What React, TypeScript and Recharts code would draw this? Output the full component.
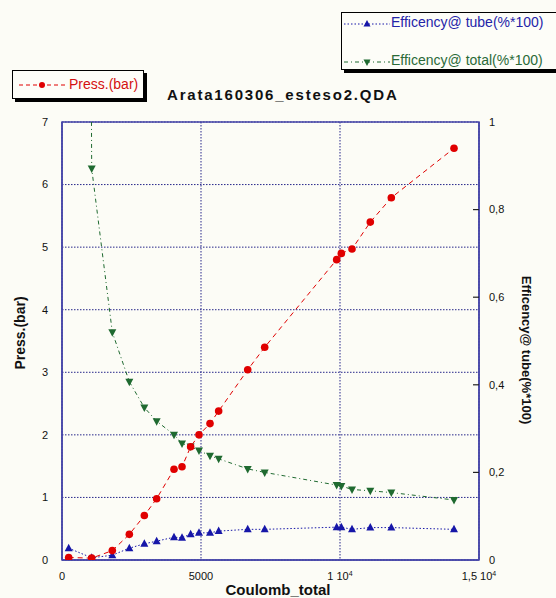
import { CartesianGrid, ComposedChart, Label, Line, ReferenceArea, XAxis, YAxis } from "recharts";

// Coulomb_total shared by the three series
const coulomb = [240, 1068, 1810, 2422, 2962, 3405, 4029, 4317, 4628, 4928, 5324, 5635, 6680, 7291, 9880, 10048, 10432, 11090, 11846, 14101];
const press = [0.04, 0.03, 0.15, 0.41, 0.71, 0.98, 1.45, 1.49, 1.81, 2.0, 2.18, 2.38, 3.04, 3.4, 4.8, 4.9, 4.97, 5.4, 5.79, 6.58];
const effTube = [0.027, 0.005, 0.011, 0.027, 0.037, 0.043, 0.052, 0.051, 0.059, 0.062, 0.062, 0.066, 0.07, 0.07, 0.075, 0.075, 0.07, 0.074, 0.074, 0.07];
const effTotal = [12, 0.894, 0.52, 0.407, 0.348, 0.317, 0.286, 0.266, 0.259, 0.25, 0.238, 0.231, 0.208, 0.2, 0.171, 0.169, 0.161, 0.158, 0.154, 0.137];

const xTicks = [0, 5000, 10000, 15000];
const pressTicks = [0, 1, 2, 3, 4, 5, 6, 7];
const effTicks = [0, 0.2, 0.4, 0.6, 0.8, 1];

const data = coulomb.map((c, i) => ({ c, press: press[i], tube: effTube[i], total: effTotal[i] }));

const RED = "#e00000";
const BLUE = "#1616a8";
const GREEN = "#1f6a30";
const FRAME = "#4646a8";
const FONT = "'Liberation Sans', Arial, sans-serif";

const circleDot = (p: any) => <circle key={`p${p.index}`} cx={p.cx} cy={p.cy} r={3.8} fill={RED} stroke="none" />;
const upDot = (p: any) => (
  <path key={`u${p.index}`} d={`M${p.cx},${p.cy - 4.5}L${p.cx + 4},${p.cy + 3}L${p.cx - 4},${p.cy + 3}Z`} fill={BLUE} />
);
const downDot = (p: any) => (
  <path key={`d${p.index}`} d={`M${p.cx - 4},${p.cy - 3}L${p.cx + 4},${p.cy - 3}L${p.cx},${p.cy + 4.5}Z`} fill={GREEN} />
);

const XTick = ({ x, y, payload }: any) => {
  const v = payload.value;
  let main = String(v);
  let sup = "";
  if (v === 10000) { main = "1 10"; sup = "4"; }
  if (v === 15000) { main = "1,5 10"; sup = "4"; }
  return (
    <text x={x} y={y} dy="0.71em" textAnchor="middle" fontSize={11} fill="#111" fontFamily={FONT}>
      {main}
      {sup && <tspan dy={-4} fontSize={7}>{sup}</tspan>}
    </text>
  );
};

const RightTick = ({ x, y, payload }: any) => {
  const v = payload.value;
  return (
    <g>
      {v > 0 && v < 1 && <line x1={x - 16} x2={x - 10} y1={y} y2={y} stroke="#222" strokeWidth={1.2} />}
      <text x={x} y={y} dy="0.35em" textAnchor="start" fontSize={11} fill="#111" fontFamily={FONT}>
        {String(Math.round(v * 10) / 10).replace(".", ",")}
      </text>
    </g>
  );
};

const LegendIcon = ({ color, dash, mark }: { color: string; dash: string; mark: "circle" | "up" | "down" }) => (
  <svg width={46} height={10} style={{ display: "block" }}>
    <line x1={0} x2={46} y1={5} y2={5} stroke={color} strokeWidth={1} strokeDasharray={dash} />
    {mark === "circle" && <circle cx={23} cy={5} r={3} fill={color} />}
    {mark === "up" && <path d="M23,1L26.5,7.5L19.5,7.5Z" fill={color} />}
    {mark === "down" && <path d="M19.5,2.5L26.5,2.5L23,9Z" fill={color} />}
  </svg>
);

const boxStyle: any = {
  position: "absolute",
  border: "1px solid #000",
  boxShadow: "3px 3px 0 #000",
  background: "#fdfdf8",
  fontFamily: FONT,
  fontSize: 14,
  boxSizing: "border-box",
};

export default function App() {
  return (
    <div style={{ position: "absolute", left: 0, top: 0, width: 556, height: 598, background: "#fcfcf6", overflow: "hidden" }}>
      <ComposedChart width={556} height={598} data={data} margin={{ top: 122, right: 27, bottom: 18, left: 22 }}>
        <CartesianGrid yAxisId="left" stroke="#26268a" strokeDasharray="1.5 1.5" strokeWidth={1} />
        <XAxis
          dataKey="c"
          type="number"
          domain={[0, 15000]}
          ticks={xTicks}
          height={20}
          tickSize={0}
          tickMargin={12}
          axisLine={{ stroke: FRAME, strokeWidth: 1.5 }}
          tick={<XTick />}
          allowDataOverflow
        >
          <Label
            content={() => (
              <text x={278} y={595} textAnchor="middle" fontSize={15} fontWeight="bold" fill="#111" fontFamily={FONT}>
                Coulomb_total
              </text>
            )}
          />
        </XAxis>
        <YAxis
          yAxisId="left"
          domain={[0, 7]}
          ticks={pressTicks}
          width={40}
          tickSize={0}
          tickMargin={14}
          axisLine={{ stroke: FRAME, strokeWidth: 1.5 }}
          tick={{ fontSize: 11, fill: "#111", fontFamily: FONT }}
          allowDataOverflow
        >
          <Label
            content={() => (
              <text x={25} y={333} transform="rotate(-90 25 333)" textAnchor="middle" fontSize={14} fontWeight="bold" fill="#111" fontFamily={FONT}>
                Press.(bar)
              </text>
            )}
          />
        </YAxis>
        <YAxis
          yAxisId="right"
          orientation="right"
          domain={[0, 1]}
          ticks={effTicks}
          width={50}
          tickSize={0}
          tickMargin={10}
          axisLine={{ stroke: FRAME, strokeWidth: 1.5 }}
          tick={<RightTick />}
          allowDataOverflow
        >
          <Label
            content={() => (
              <text x={522} y={350} transform="rotate(90 522 350)" textAnchor="middle" fontSize={13} fontWeight="bold" fill="#111" fontFamily={FONT}>
                Efficency@ tube(%*100)
              </text>
            )}
          />
        </YAxis>
        <ReferenceArea yAxisId="left" x1={0} x2={15000} y1={0} y2={7} fill="none" stroke={FRAME} strokeWidth={1.5} />
        <Line
          yAxisId="right"
          dataKey="total"
          stroke={GREEN}
          strokeWidth={1}
          strokeDasharray="4 3 1 3"
          dot={downDot}
          isAnimationActive={false}
        />
        <Line
          yAxisId="right"
          dataKey="tube"
          stroke={BLUE}
          strokeWidth={1}
          strokeDasharray="1.5 2"
          dot={upDot}
          isAnimationActive={false}
        />
        <Line
          yAxisId="left"
          dataKey="press"
          stroke={RED}
          strokeWidth={1}
          strokeDasharray="5 4"
          dot={circleDot}
          isAnimationActive={false}
        />
      </ComposedChart>

      <div style={{ ...boxStyle, left: 12, top: 70, width: 132, height: 29 }}>
        <div style={{ position: "absolute", left: 6, top: 9 }}>
          <LegendIcon color={RED} dash="4 3" mark="circle" />
        </div>
        <div style={{ position: "absolute", left: 56, top: 5, color: "#d41010" }}>Press.(bar)</div>
      </div>

      <div style={{ ...boxStyle, left: 341, top: 12, width: 230, height: 58 }}>
        <div style={{ position: "absolute", left: 2, top: 6 }}>
          <LegendIcon color={BLUE} dash="1.5 2" mark="up" />
        </div>
        <div style={{ position: "absolute", left: 49, top: 1, color: "#2424a8" }}>Efficency@ tube(%*100)</div>
        <div style={{ position: "absolute", left: 2, top: 44 }}>
          <LegendIcon color={GREEN} dash="4 3 1 3" mark="down" />
        </div>
        <div style={{ position: "absolute", left: 49, top: 39, color: "#2a6a38" }}>Efficency@ total(%*100)</div>
      </div>

      <div
        style={{
          position: "absolute",
          left: 167,
          top: 86,
          fontFamily: FONT,
          fontSize: 15,
          fontWeight: "bold",
          letterSpacing: 1.8,
          color: "#111",
          whiteSpace: "nowrap",
        }}
      >
        Arata160306_esteso2.QDA
      </div>
    </div>
  );
}
